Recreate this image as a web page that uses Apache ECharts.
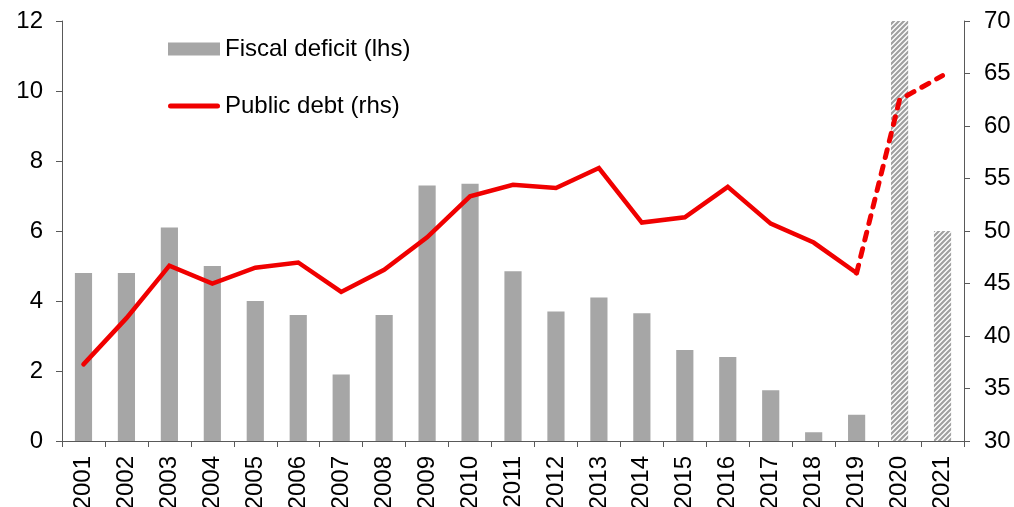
<!DOCTYPE html>
<html>
<head>
<meta charset="utf-8">
<script src="https://cdn.jsdelivr.net/npm/echarts@6/dist/echarts.min.js"></script>
<style>
  html, body { margin: 0; padding: 0; background: #fff; }
  #chart { width: 1014px; height: 507px; }
</style>
</head>
<body>
<div id="chart"></div>
<script>
// Years on the category axis
const years = ['2001','2002','2003','2004','2005','2006','2007','2008','2009','2010','2011',
               '2012','2013','2014','2015','2016','2017','2018','2019','2020','2021'];
// Fiscal deficit, % of GDP (left axis)
const fiscalDeficit = [4.8, 4.8, 6.1, 5.0, 4.0, 3.6, 1.9, 3.6, 7.3, 7.35, 4.85,
                       3.7, 4.1, 3.65, 2.6, 2.4, 1.45, 0.25, 0.75, 12.0, 6.0];
// Public debt, % of GDP (right axis)
const publicDebt = [37.3, 41.7, 46.7, 45.0, 46.5, 47.0, 44.2, 46.3, 49.4, 53.3, 54.4,
                    54.1, 56.0, 50.8, 51.3, 54.2, 50.7, 48.9, 46.0, 62.5, 64.8];
// First projected year (hatched bars, dashed line)
const firstProjection = '2020';
// Axis tick settings
const leftTicks = { min: 0, max: 12, interval: 2 };
const rightTicks = { min: 30, max: 70, interval: 5 };

const projIdx = years.indexOf(firstProjection);

// Diagonal hatch fill for projected bars
function hatchPattern() {
  const c = document.createElement('canvas');
  const s = 5;
  c.width = s; c.height = s;
  const g = c.getContext('2d');
  g.fillStyle = '#ffffff';
  g.fillRect(0, 0, s, s);
  g.strokeStyle = '#a0a0a0';
  g.lineWidth = 2.2;
  g.beginPath();
  g.moveTo(-1, s + 1); g.lineTo(s + 1, -1);
  g.moveTo(-1, 1); g.lineTo(1, -1);
  g.moveTo(s - 1, s + 1); g.lineTo(s + 1, s - 1);
  g.stroke();
  return c;
}
const hatch = { image: hatchPattern(), repeat: 'repeat' };

const barData = fiscalDeficit.map((v, i) =>
  i >= projIdx ? { value: v, itemStyle: { color: hatch } } : v);
const debtActual = publicDebt.map((v, i) => (i < projIdx ? v : null));
const debtProjected = publicDebt.map((v, i) => (i >= projIdx - 1 ? v : null));

const FONT = '"Liberation Sans", Arial, sans-serif';
const AXIS_COLOR = '#595959';
const RED = '#f00000';
const FS = 24;
// Thick round-ended stroke used as the legend key of the debt line
const LINE_KEY = 'path://M2.5,0 L49.5,0 A2.5,2.5 0 0 1 49.5,5 L2.5,5 A2.5,2.5 0 0 1 2.5,0 Z';

const chart = echarts.init(document.getElementById('chart'), null, { renderer: 'canvas' });
chart.setOption({
  animation: false,
  textStyle: { fontFamily: FONT },
  grid: { left: 62, right: 50, top: 21, bottom: 66, containLabel: false, outerBoundsMode: 'none' },
  legend: {
    orient: 'vertical',
    left: 163,
    top: 30,
    itemWidth: 52,
    itemHeight: 13,
    itemGap: 29,
    symbolKeepAspect: true,
    data: [
      { name: 'Fiscal deficit (lhs)', icon: 'rect' },
      { name: 'Public debt (rhs)', icon: LINE_KEY, itemStyle: { color: RED } }
    ],
    textStyle: { fontFamily: FONT, fontSize: FS, color: '#000', lineHeight: 28 }
  },
  xAxis: {
    type: 'category',
    data: years,
    boundaryGap: true,
    axisLine: { lineStyle: { color: AXIS_COLOR, width: 1 } },
    axisTick: { show: true, length: 6, lineStyle: { color: AXIS_COLOR } },
    axisLabel: { rotate: 90, fontSize: FS, color: '#000', margin: 15, fontFamily: FONT, interval: 0 }
  },
  yAxis: [
    {
      type: 'value',
      min: leftTicks.min, max: leftTicks.max, interval: leftTicks.interval,
      axisLine: { show: true, lineStyle: { color: AXIS_COLOR } },
      axisTick: { show: true, length: 6, lineStyle: { color: AXIS_COLOR } },
      splitLine: { show: false },
      axisLabel: { fontSize: FS, color: '#000', margin: 19, fontFamily: FONT }
    },
    {
      type: 'value',
      position: 'right',
      min: rightTicks.min, max: rightTicks.max, interval: rightTicks.interval,
      axisLine: { show: true, lineStyle: { color: AXIS_COLOR } },
      axisTick: { show: true, length: 6, lineStyle: { color: AXIS_COLOR } },
      splitLine: { show: false },
      axisLabel: { fontSize: FS, color: '#000', margin: 20, fontFamily: FONT }
    }
  ],
  series: [
    {
      name: 'Fiscal deficit (lhs)',
      type: 'bar',
      data: barData,
      barWidth: '40%',
      itemStyle: { color: '#a6a6a6' },
      yAxisIndex: 0
    },
    {
      name: 'Public debt (rhs)',
      type: 'line',
      data: debtActual,
      yAxisIndex: 1,
      symbol: 'none',
      lineStyle: { color: RED, width: 4.5, cap: 'round', join: 'miter' },
      itemStyle: { color: RED },
      z: 3
    },
    {
      name: 'Public debt (rhs)',
      type: 'line',
      data: debtProjected,
      yAxisIndex: 1,
      symbol: 'none',
      lineStyle: { color: RED, width: 5, type: [8, 9], cap: 'round', join: 'round' },
      itemStyle: { color: RED },
      z: 3
    }
  ]
});
</script>
</body>
</html>
